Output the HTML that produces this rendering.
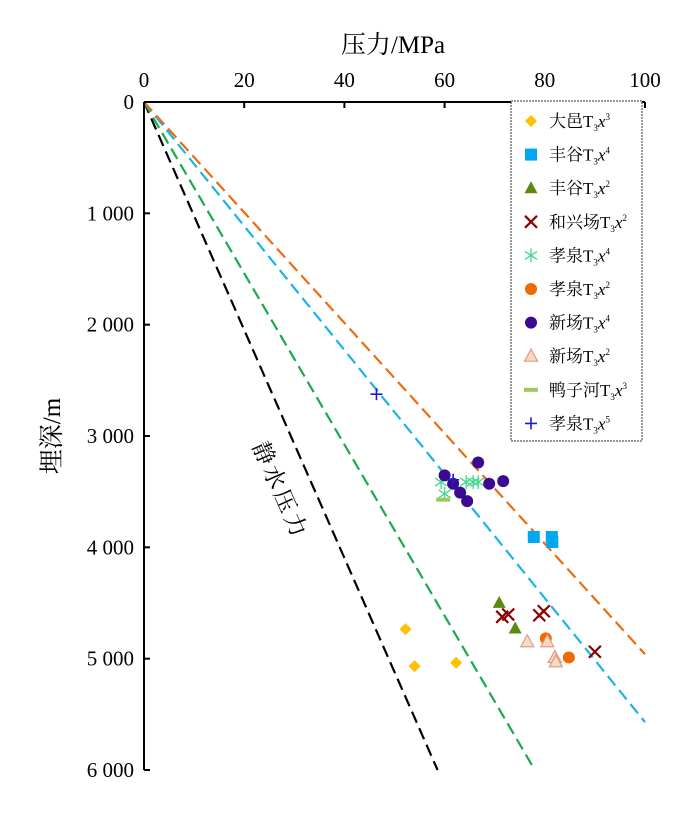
<!DOCTYPE html>
<html><head><meta charset="utf-8"><style>
body{margin:0;background:#fff;}
svg text{font-family:"Liberation Serif","Noto Serif CJK SC",serif;fill:#000;}
</style></head><body>
<svg id="chart" width="700" height="813">
<g id="grid"></g>
<g id="lines"></g>
<g id="marks"></g>
<g id="axes"></g>
<g id="legend"></g>
</svg>
<script>
const xTicks=[0,20,40,60,80,100];
const yTicks=[0,1000,2000,3000,4000,5000,6000];
const yTickLabels=["0","1 000","2 000","3 000","4 000","5 000","6 000"];
const lineNames=["hydrostatic","green-trend","blue-trend","orange-trend"];
const lineColors=["#000","#1aaa4a","#1ab4ea","#f06a10"];
const lineEndP=[58.6,78,100,100];
const lineEndD=[6000,6000,5570,4960];
const seriesNames=["大邑","丰谷","丰谷","和兴场","孝泉","孝泉","新场","新场","鸭子河","孝泉"];
const seriesSup=["3","4","2","2","4","2","4","2","3","5"];
const seriesShapes=["diamond","square","triangle","x","star","circle","circle","triangle","bar","plus"];
const seriesColors=["#ffc000","#00a8f0","#5a8a10","#8b0000","#40d890","#f06a00","#3a0a90","#f5dcc0","#a0c860","#1a1adc"];
const seriesP=[[52.2,54,62.3],[77.8,81.4,81.5],[70.9,74.1],[71.5,72.7,78.9,79.8,90],[59.3,64.3,65.7,66.7,60],[80.2,84.8],[60,61.7,63.1,64.5,68.9,71.7,66.7],[76.5,80.5,82,82.2],[59.7],[46.4,61.7]];
const seriesD=[[4735,5067,5037],[3907,3907,3952],[4499,4729],[4624,4603,4610,4574,4938],[3414,3414,3414,3414,3519],[4818,4989],[3354,3429,3509,3585,3429,3405,3238],[4848,4848,4989,5028],[3572],[2624,3393]];

const X0=144,X1=645,Y0=102,Y1=770;
const sx=p=>X0+(X1-X0)*p/100;
const sy=d=>Y0+(Y1-Y0)*d/6000;
const NS="http://www.w3.org/2000/svg";
function mk(tag,attrs,parent){const e=document.createElementNS(NS,tag);for(const k in attrs)e.setAttribute(k,attrs[k]);parent.appendChild(e);return e;}
const G=id=>document.getElementById(id);

lineNames.forEach((n,i)=>{
 const l=mk('line',{x1:sx(0),y1:sy(0),x2:sx(lineEndP[i]),y2:sy(lineEndD[i]),stroke:lineColors[i],'stroke-width':2.2,'stroke-dasharray':'12,6'},G('lines'));
 
 
});
const hl=mk('text',{x:0,y:0,'font-size':23,transform:'translate(252,446) rotate(66)','letter-spacing':'3'},G('lines'));
hl.textContent='静水压力';



function shape(type,x,y,c,parent){
 let e;
 if(type==='diamond')e=mk('polygon',{points:`${x},${y-6} ${x+6},${y} ${x},${y+6} ${x-6},${y}`,fill:c},parent);
 else if(type==='square')e=mk('rect',{x:x-6,y:y-6,width:12,height:12,fill:c},parent);
 else if(type==='triangle')e=mk('polygon',{points:`${x},${y-7} ${x+6.5},${y+5} ${x-6.5},${y+5}`,fill:c,stroke:c==='#f5dcc0'?'#e09a8a':'none','stroke-width':1.2},parent);
 else if(type==='circle')e=mk('circle',{cx:x,cy:y,r:6,fill:c},parent);
 else if(type==='x')e=mk('path',{d:`M${x-6} ${y-6}L${x+6} ${y+6}M${x-6} ${y+6}L${x+6} ${y-6}`,stroke:c,'stroke-width':2.2,fill:'none'},parent);
 else if(type==='star')e=mk('path',{d:`M${x} ${y-7}V${y+7}M${x-6} ${y-4}L${x+6} ${y+4}M${x-6} ${y+4}L${x+6} ${y-4}`,stroke:c,'stroke-width':1.3,fill:'none'},parent);
 else if(type==='bar')e=mk('rect',{x:x-7,y:y-2,width:14,height:4,fill:c},parent);
 else if(type==='plus')e=mk('path',{d:`M${x-6} ${y}H${x+6}M${x} ${y-6}V${y+6}`,stroke:c,'stroke-width':1.6,fill:'none'},parent);
 return e;
}
seriesNames.forEach((n,i)=>{
 seriesP[i].forEach((p,j)=>{
  const e=shape(seriesShapes[i],sx(p),sy(seriesD[i][j]),seriesColors[i],G('marks'));
  
  
 });
});

const ax=G('axes');
const xa=mk('line',{x1:X0,y1:Y0,x2:X1,y2:Y0,stroke:'#000','stroke-width':2},ax);


const ya=mk('line',{x1:X0,y1:Y0,x2:X0,y2:Y1,stroke:'#000','stroke-width':2},ax);


xTicks.forEach(t=>{
 const tk=mk('line',{x1:sx(t),y1:Y0,x2:sx(t),y2:Y0+6,stroke:'#000','stroke-width':2},ax);
 
 
 const tl=mk('text',{x:sx(t),y:87,'font-size':21,'text-anchor':'middle'},ax);
 tl.textContent=t;
 
 
});
yTicks.forEach((t,i)=>{
 const tk=mk('line',{x1:X0,y1:sy(t),x2:X0+6,y2:sy(t),stroke:'#000','stroke-width':2},ax);
 
 
 const tl=mk('text',{x:134,y:sy(t)+7,'font-size':21,'text-anchor':'end'},ax);
 tl.textContent=yTickLabels[i];
 
 
});
const xt=mk('text',{x:393,y:53,'font-size':25,'text-anchor':'middle'},ax);
xt.textContent='压力/MPa';


const yt=mk('text',{x:0,y:0,'font-size':25,'text-anchor':'middle',transform:'translate(60,436) rotate(-90)'},ax);
yt.textContent='埋深/m';



const lg=G('legend');
const box=mk('rect',{x:511,y:101,width:131,height:340,fill:'#fff',stroke:'#333','stroke-width':1,'stroke-dasharray':'2,1'},lg);


seriesNames.forEach((n,i)=>{
 const y=121+i*33.6;
 const g=mk('g',{},lg);
 
 
 shape(seriesShapes[i],531,y,seriesColors[i],g);
 const t=mk('text',{x:549,y:y+6,'font-size':17},g);
 t.innerHTML=n+'T<tspan font-size="9" dy="4">3</tspan><tspan font-style="italic" dy="-4">x</tspan><tspan font-size="9" dy="-7">'+seriesSup[i]+'</tspan>';
});
</script>
</body></html>
